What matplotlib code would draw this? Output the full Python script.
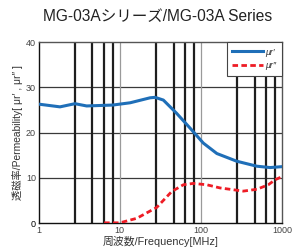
import matplotlib
matplotlib.use("Agg")
import matplotlib.pyplot as plt
import numpy as np

plt.rcParams['font.family'] = ['Liberation Sans', 'Noto Sans CJK JP', 'DejaVu Sans']

title = "MG-03Aシリーズ/MG-03A Series"
xlabel = "周波数/Frequency[MHz]"
ylabel = "透磁率/Permeability[ μr′ , μr″ ]"

mu1_freq = [1.0, 1.83, 2.8, 3.9, 8.2, 13.4, 23.6, 27.2, 34.4, 50, 73.5, 107, 157, 276, 488, 711, 1000]
mu1_val = [26.3, 25.7, 26.4, 25.9, 26.1, 26.6, 27.7, 27.8, 27.2, 24.3, 21.0, 17.7, 15.4, 13.7, 12.6, 12.3, 12.5]

mu2_freq = [6.4, 10.0, 16.2, 28.5, 43.6, 60.7, 80.5, 118, 172, 333, 488, 677, 820, 1000]
mu2_val = [0.1, 0.1, 1.1, 3.5, 7.0, 8.5, 8.8, 8.5, 7.8, 7.1, 7.5, 8.5, 9.6, 10.3]

decades = [1, 10, 100]
thick_grid = [2.8, 4.6, 6.3, 8.2]
y_grid = [10, 20, 30]
xticks = [1, 10, 100, 1000]
xticklabels = ["1", "10", "100", "1000"]
yticks = [0, 10, 20, 30, 40]

fig = plt.figure(figsize=(2.92, 2.52), dpi=100)
ax = fig.add_axes([0.1325, 0.114, 0.8335, 0.719])
ax.set_xscale('log')
ax.set_xlim(1, 1000)
ax.set_ylim(0, 40)

for y in y_grid:
    ax.axhline(y, color='#3a3a3a', lw=0.9, zorder=1)
for d in decades[1:]:
    ax.axvline(d, color='#9a9a9a', lw=0.9, zorder=1)
for d in decades:
    for g in thick_grid:
        ax.axvline(d * g, color='#1e1e1e', lw=1.6, zorder=1)

l1, = ax.plot(mu1_freq, mu1_val, color='#1f6fb8', lw=2.2, zorder=3, label="μr′")
l2, = ax.plot(mu2_freq, mu2_val, color='#ee1c25', lw=2.0, ls=(0, (2.0, 1.2)), zorder=3, label="μr″")

ax.set_xticks(xticks)
ax.set_xticklabels(xticklabels)
ax.xaxis.set_minor_locator(matplotlib.ticker.NullLocator())
ax.set_yticks(yticks)
ax.tick_params(length=0, labelsize=6.5, labelcolor='#444444', pad=2)
ax.get_yticklabels()[0].set_color('#000000')

for s in ['left', 'bottom']:
    ax.spines[s].set_color('#111111')
    ax.spines[s].set_linewidth(1.0)
for s in ['top', 'right']:
    ax.spines[s].set_color('#555555')
    ax.spines[s].set_linewidth(1.0)

ax.set_xlabel(xlabel, fontsize=7.8, color='#333333', labelpad=1)
ax.set_ylabel(ylabel, fontsize=7.4, color='#333333', labelpad=2)
fig.text(0.538, 0.935, title, ha='center', va='center', fontsize=11.2, color='#222222')

leg = ax.legend(handles=[l1, l2], loc='upper right', frameon=True,
                prop={'size': 6.5, 'style': 'italic'},
                fancybox=False, edgecolor='#444444', framealpha=1,
                borderaxespad=0.0, handlelength=3.4, handletextpad=0.3,
                labelspacing=0.55, borderpad=0.6)
leg.get_frame().set_linewidth(0.8)
leg.set_zorder(5)
for t in leg.get_texts():
    t.set_color('#333333')

fig.savefig("out.png", dpi=100)
